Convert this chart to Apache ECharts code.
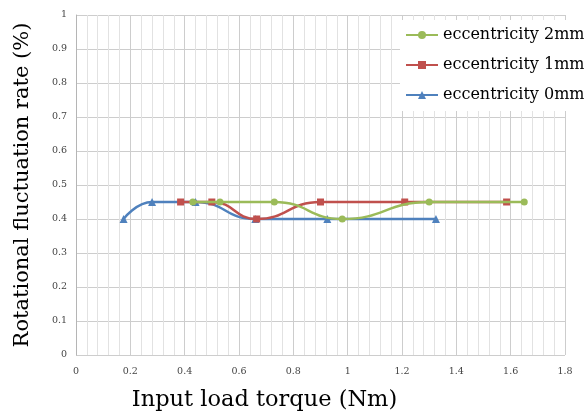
<!DOCTYPE html>
<html>
<head>
<meta charset="utf-8">
<script src="https://cdn.jsdelivr.net/npm/echarts@6/dist/echarts.min.js"></script>
<style>
  html, body { margin: 0; padding: 0; background: #fff; }
  #chart_id { width: 588px; height: 414px; }
</style>
</head>
<body>
<div id="chart_id"></div>
<script>
// data
var seriesNames = ['eccentricity 2mm', 'eccentricity 1mm', 'eccentricity 0mm'];
var torque2mm = [0.43, 0.53, 0.73, 0.98, 1.30, 1.65];
var rate2mm   = [0.45, 0.45, 0.45, 0.40, 0.45, 0.45];
var torque1mm = [0.385, 0.50, 0.665, 0.90, 1.21, 1.585];
var rate1mm   = [0.45, 0.45, 0.40, 0.45, 0.45, 0.45];
var torque0mm = [0.175, 0.28, 0.44, 0.66, 0.925, 1.325];
var rate0mm   = [0.40, 0.45, 0.45, 0.40, 0.40, 0.40];

function pairs(xs, ys) {
  return xs.map(function (x, i) { return [x, ys[i]]; });
}

var serif = 'DejaVu Serif';
var colors = ['#9bbb59', '#c0504d', '#4f81bd'];
var symbols = ['circle', 'rect', 'triangle'];
var xsData = [torque2mm, torque1mm, torque0mm];
var ysData = [rate2mm, rate1mm, rate0mm];

var chart = echarts.init(document.getElementById('chart_id'));
var option = {
  animation: false,
  grid: { left: 76, right: 23, top: 15, bottom: 59, outerBoundsMode: 'none' },
  legend: {
    orient: 'vertical',
    left: 400,
    top: 20,
    itemGap: 14,
    itemWidth: 32,
    itemHeight: 10,
    padding: [7, 0, 8, 5],
    backgroundColor: '#fff',
    textStyle: { fontFamily: serif, fontSize: 16, color: '#000' },
    data: seriesNames
  },
  xAxis: {
    type: 'value',
    min: 0,
    max: 1.8,
    interval: 0.2,
    name: 'Input load torque (Nm)',
    nameLocation: 'middle',
    nameGap: 34,
    nameTextStyle: { fontFamily: serif, fontSize: 22.5, color: '#000', padding: [0, 112, 0, 0] },
    axisLine: { show: false },
    axisTick: { show: false },
    axisLabel: { fontFamily: serif, fontSize: 9.5, color: '#444', margin: 12 },
    splitLine: { show: true, lineStyle: { color: '#cdcdcd', width: 1 } },
    minorTick: { show: false, splitNumber: 5 },
    minorSplitLine: { show: true, lineStyle: { color: '#e2e2e2', width: 1 } }
  },
  yAxis: {
    type: 'value',
    min: 0,
    max: 1,
    interval: 0.1,
    name: 'Rotational fluctuation rate (%)',
    nameLocation: 'middle',
    nameGap: 43,
    nameTextStyle: { fontFamily: serif, fontSize: 21, color: '#000' },
    axisLine: { show: true, lineStyle: { color: '#b5b5b5' } },
    axisTick: { show: false },
    axisLabel: { fontFamily: serif, fontSize: 9.5, color: '#444', margin: 9 },
    splitLine: { show: true, lineStyle: { color: '#cdcdcd', width: 1 } }
  },
  series: seriesNames.map(function (name, i) {
    return {
      name: name,
      type: 'line',
      smooth: 0.5,
      data: pairs(xsData[i], ysData[i]),
      symbol: symbols[i],
      symbolSize: i === 2 ? 8 : 7,
      lineStyle: { color: colors[i], width: 2.5 },
      itemStyle: { color: colors[i] },
      z: 3 - i
    };
  })
};
chart.setOption(option);
</script>
</body>
</html>
